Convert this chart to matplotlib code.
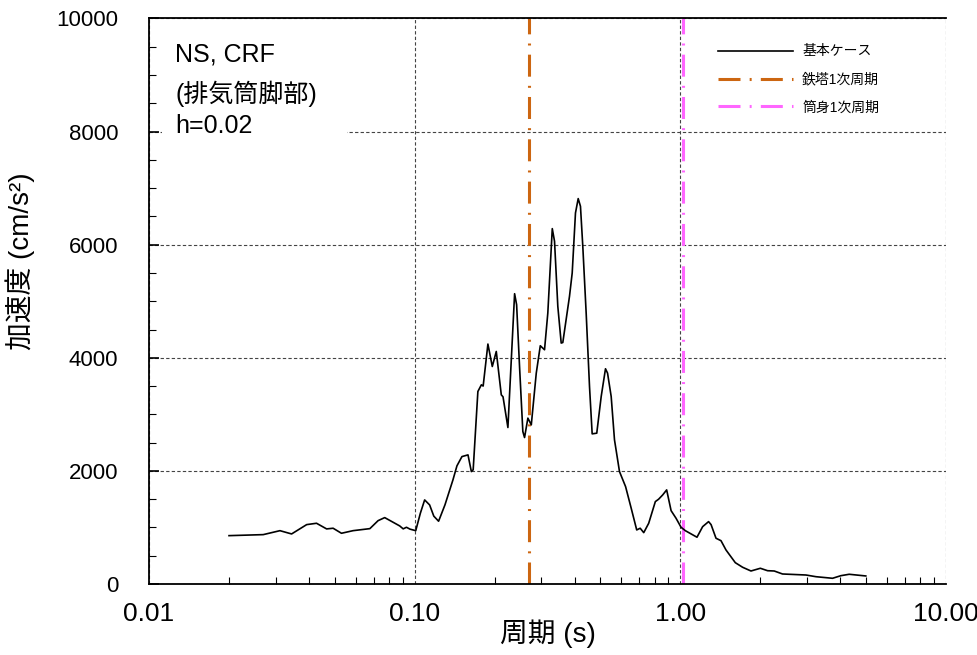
import numpy as np
import matplotlib
matplotlib.use('Agg')
import matplotlib.pyplot as plt
from matplotlib.patches import Rectangle
from matplotlib.ticker import MultipleLocator, LogLocator, FixedLocator

plt.rcParams['font.family'] = ['Liberation Sans', 'Noto Sans CJK JP']

# response spectrum (period s, acceleration cm/s2)
period = [0.0200, 0.0269, 0.0311, 0.0344, 0.0392, 0.0427, 0.0466, 0.0493, 0.0530, 0.0586,
          0.0678, 0.0728, 0.0771, 0.0878, 0.0905, 0.0931, 0.0960, 0.1009, 0.1050, 0.1090,
          0.1138, 0.1180, 0.1230, 0.1300, 0.1393, 0.1442, 0.1506, 0.1587, 0.1634, 0.1660,
          0.1729, 0.1782, 0.1810, 0.1886, 0.1959, 0.2028, 0.2118, 0.2150, 0.2243, 0.2377,
          0.2419, 0.2481, 0.2553, 0.2591, 0.2667, 0.2747, 0.2868, 0.2970, 0.3081, 0.3170,
          0.3295, 0.3360, 0.3457, 0.3560, 0.3610, 0.3825, 0.3916, 0.4029, 0.4125, 0.4207,
          0.4293, 0.4420, 0.4550, 0.4656, 0.4845, 0.5035, 0.5226, 0.5320, 0.5490, 0.5650,
          0.5900, 0.6220, 0.6530, 0.6850, 0.7060, 0.7280, 0.7600, 0.8050, 0.8280, 0.8580,
          0.8880, 0.9228, 0.9634, 1.006, 1.044, 1.155, 1.213, 1.277, 1.305, 1.362,
          1.422, 1.485, 1.610, 1.715, 1.844, 2.00, 2.13, 2.256, 2.424, 2.97,
          3.24, 3.74, 4.02, 4.32, 4.99]
accel = [855, 873, 943, 885, 1050, 1074, 974, 986, 897, 943,
         979, 1120, 1174, 1027, 975, 1003, 970, 943, 1250, 1487,
         1398, 1200, 1110, 1400, 1841, 2089, 2253, 2283, 1988, 2020,
         3404, 3522, 3500, 4243, 3846, 4112, 3345, 3310, 2767, 5133,
         4938, 3846, 2696, 2590, 2933, 2814, 3729, 4213, 4142, 4791,
         6284, 6060, 4909, 4260, 4270, 5086, 5499, 6561, 6815, 6679,
         5970, 4791, 3492, 2655, 2667, 3316, 3806, 3729, 3316, 2549,
         1988, 1722, 1340, 956, 986, 908, 1074, 1457, 1499, 1575,
         1664, 1297, 1162, 1003, 943, 827, 1014, 1103, 1050, 809,
         766, 602, 377, 296, 230, 278, 235, 230, 177, 159,
         129, 101, 147, 172, 142]

tower_period = 0.27   # 鉄塔1次周期
stack_period = 1.02   # 筒身1次周期

xticks = [0.01, 0.1, 1.0, 10.0]
xticklabels = ['0.01', '0.10', '1.00', '10.00']
yticks = [0, 2000, 4000, 6000, 8000, 10000]

fig = plt.figure(figsize=(9.78, 6.55), dpi=100)
ax = fig.add_axes([0.1524, 0.1084, 0.8149, 0.8634])

ax.plot(period, accel, color='black', lw=1.2, label='基本ケース', zorder=3)
ax.axvline(tower_period, color='#CC6611', lw=2.2, ls=(0, (7.2, 3.0, 0.65, 3.0)),
           label='鉄塔1次周期', zorder=2)
ax.axvline(stack_period, color='#FF66FF', lw=2.2, ls=(0, (7.2, 3.0, 0.65, 3.0)),
           label='筒身1次周期', zorder=2)

ax.set_xscale('log')
ax.set_xlim(0.01, 10)
ax.set_ylim(0, 10000)
ax.xaxis.set_major_locator(FixedLocator(xticks))
ax.set_xticklabels(xticklabels)
ax.xaxis.set_minor_locator(LogLocator(base=10, subs=np.arange(2, 10)))
ax.set_yticks(yticks)
ax.yaxis.set_minor_locator(MultipleLocator(500))

ax.tick_params(axis='x', which='both', direction='in', top=False, labelsize=19, pad=13)
ax.tick_params(axis='x', which='major', length=0)
ax.tick_params(axis='x', which='minor', length=5, width=0.8)
ax.tick_params(axis='y', which='both', direction='in', right=False, labelsize=16, pad=22)
ax.tick_params(axis='y', which='major', length=7, width=1.2)
ax.tick_params(axis='y', which='minor', length=5, width=0.8)

ax.grid(True, which='major', color='#444444', lw=0.8, ls=(0, (3, 2)))
ax.set_axisbelow(True)
ax.spines['right'].set_visible(False)
for s in ['left', 'bottom', 'top']:
    ax.spines[s].set_linewidth(1.3)

ax.set_xlabel('周期 (s)', fontsize=20)
ax.xaxis.set_label_coords(0.5, -0.063)
ax.set_ylabel('加速度 (cm/s²)', fontsize=20)
ax.yaxis.set_label_coords(-0.143, 0.57)

# white box behind the case annotation
ax.add_patch(Rectangle((0.016, 0.78), 0.232, 0.2, transform=ax.transAxes,
                       facecolor='white', edgecolor='none', zorder=1))
ax.text(0.033, 0.937, 'NS, CRF', transform=ax.transAxes, fontsize=18, va='center', zorder=4)
ax.text(0.033, 0.866, '(排気筒脚部)', transform=ax.transAxes, fontsize=18, va='center', zorder=4)
ax.text(0.033, 0.810, 'h=0.02', transform=ax.transAxes, fontsize=18, va='center', zorder=4)

ax.legend(loc='upper left', bbox_to_anchor=(0.714, 0.954), frameon=False, fontsize=10,
          handlelength=5.4, handletextpad=0.65, labelspacing=1.0,
          borderpad=0, borderaxespad=0)

fig.savefig('out.png', dpi=100)
